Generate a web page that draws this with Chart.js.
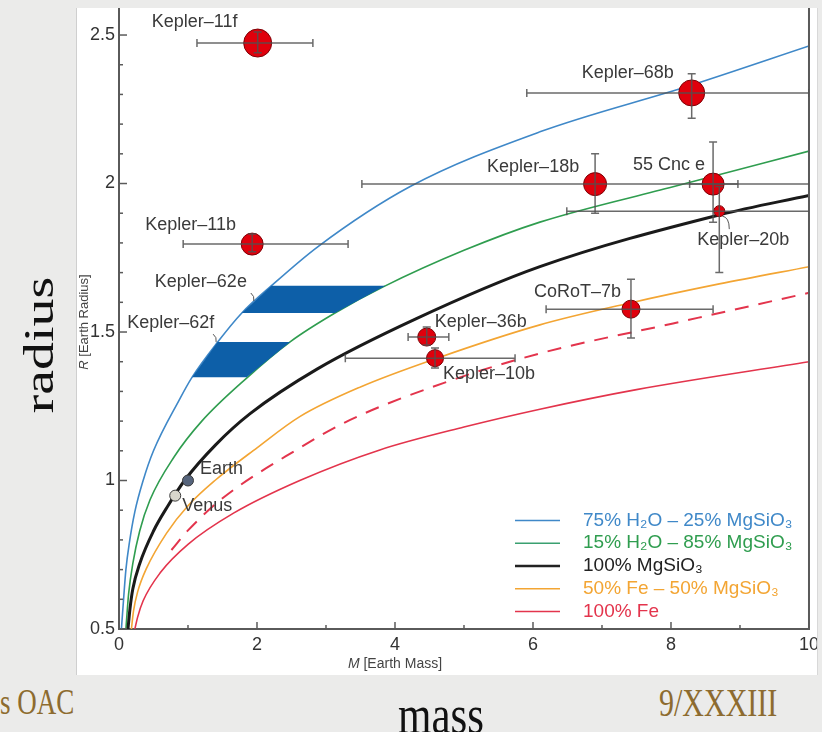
<!DOCTYPE html>
<html>
<head>
<meta charset="utf-8">
<script src="https://cdn.jsdelivr.net/npm/chart.js@4.4.1/dist/chart.umd.min.js"></script>
<style>
  body { margin: 0; width: 822px; height: 732px; overflow: hidden; background: #ebebea; position: relative; font-family: "Liberation Serif", serif; }
  #panel { position: absolute; left: 77px; top: 8px; width: 740px; height: 667px; background: #fff; overflow: hidden; box-shadow: -1px 0 0 #cfcfcf, 1px 0 0 #d8d8d8; }
  #panel canvas { position: absolute; left: 0; top: -14.8px; }
  .slide { position: absolute; white-space: nowrap; line-height: 1; transform-origin: 0 0; }
  #radius { position: absolute; left: 38px; top: 345px; font-size: 43px; line-height: 1; white-space: nowrap; color: #111;
            transform: translate(-50%, -50%) rotate(-90deg) scale(1.3, 1); }
</style>
</head>
<body>
<div id="panel"><canvas id="myChart" width="747" height="682"></canvas></div>
<div id="radius">radius</div>
<div class="slide" style="left:0px; top:685px; font-size:27px; color:#8d6b2f; transform:scaleY(1.3)">s OAC</div>
<div class="slide" style="left:398px; top:686px; font-size:43px; color:#111; transform:scaleY(1.3)">mass</div>
<div class="slide" style="left:659px; top:683px; font-size:30px; color:#8d6b2f; transform:scaleY(1.3)">9/XXXIII</div>
<script>
// mass-radius curves (Earth masses, Earth radii)
const massBlue = [0.035, 0.06, 0.1, 0.15, 0.23, 0.35, 0.5, 0.87, 1.06, 1.43, 1.78, 2.21, 2.88, 4.22, 6.1, 8.28, 10]
const radiusBlue = [0.5, 0.58, 0.70, 0.79, 0.895, 1.0, 1.1, 1.27, 1.348, 1.466, 1.564, 1.656, 1.787, 1.99, 2.174, 2.33, 2.463]

const massGreen = [0.1, 0.14, 0.2, 0.3, 0.45, 0.8, 1.2, 1.85, 2.48, 3.13, 3.83, 5.0, 6.1, 8.03, 10]
const radiusGreen = [0.5, 0.62, 0.72, 0.83, 0.935, 1.08, 1.2, 1.345, 1.467, 1.564, 1.652, 1.775, 1.87, 1.989, 2.109]

const massBlack = [0.13, 0.16, 0.2, 0.3, 0.5, 0.71, 0.95, 1.4, 1.9, 2.87, 4.31, 6.1, 8.71, 10]
const radiusBlack = [0.5, 0.57, 0.635, 0.72, 0.83, 0.915, 1.0, 1.12, 1.225, 1.375, 1.545, 1.72, 1.895, 1.96]

const massOrange = [0.18, 0.21, 0.27, 0.4, 0.69, 1.0, 1.39, 2.0, 2.62, 3.5, 4.6, 6.1, 7.41, 8.7, 10]
const radiusOrange = [0.5, 0.56, 0.625, 0.705, 0.823, 0.915, 1.0, 1.11, 1.215, 1.315, 1.411, 1.524, 1.598, 1.662, 1.72]

const massDash = [0.76, 1.0, 1.5, 2.57, 3.35, 4.7, 6.1, 8.03, 10]
const radiusDash = [0.766, 0.832, 0.94, 1.103, 1.204, 1.328, 1.428, 1.529, 1.632]

const massFe = [0.23, 0.27, 0.35, 0.6, 1.0, 1.66, 2.62, 3.78, 5.0, 6.1, 7.5, 10]
const radiusFe = [0.5, 0.54, 0.595, 0.69, 0.785, 0.89, 1.0, 1.103, 1.18, 1.24, 1.306, 1.40]

// Kepler-62 e/f allowed ranges (corners of the shaded bands)
const band62eMass = [1.78, 2.21, 3.86, 3.13]
const band62eRadius = [1.564, 1.656, 1.656, 1.564]
const band62fMass = [1.06, 1.43, 2.48, 1.85]
const band62fRadius = [1.348, 1.466, 1.466, 1.348]

// measured planets
const planetNames = ['Kepler–11f', 'Kepler–68b', 'Kepler–18b', '55 Cnc e', 'Kepler–11b', 'Kepler–20b', 'CoRoT–7b', 'Kepler–36b', 'Kepler–10b']
const planetMass = [2.01, 8.30, 6.90, 8.61, 1.93, 8.70, 7.42, 4.46, 4.58]
const planetRadius = [2.473, 2.305, 1.998, 1.998, 1.796, 1.907, 1.577, 1.483, 1.412]
const massLow = [1.13, 5.91, 3.52, 8.27, 0.93, 6.49, 6.19, 4.19, 3.28]
const massHigh = [2.81, 10.0, 10.6, 8.97, 3.32, 10.6, 8.61, 4.78, 5.74]
const radiusLow = [2.44, 2.22, 1.90, 1.87, 1.77, 1.70, 1.48, 1.456, 1.379]
const radiusHigh = [2.51, 2.37, 2.10, 2.14, 1.83, 1.99, 1.678, 1.517, 1.446]

const solarNames = ['Earth', 'Venus']
const solarMass = [1.0, 0.815]
const solarRadius = [1.0, 0.949]

const legendNames = ['75% H₂O – 25% MgSiO₃', '15% H₂O – 85% MgSiO₃', '100% MgSiO₃', '50% Fe – 50% MgSiO₃', '100% Fe']

const xTicks = [0, 2, 4, 6, 8, 10]
const yTicks = [0.5, 1, 1.5, 2, 2.5]

// styles / layout
const colBlue = '#3f88c8'
const colGreen = '#2f9d4f'
const colBlack = '#1a1a1a'
const colOrange = '#f3a533'
const colRed = '#e3344c'
const legendColors = [colBlue, colGreen, '#222', colOrange, colRed]
const legendLineColors = [colBlue, '#3aa070', '#222', colOrange, colRed]
const planetSize = [14, 13, 11.5, 11, 11, 5.5, 9, 9, 8.5]
// label offsets in px from the marker: [dx (left edge), dy (middle)]
const planetLabelOffset = [[-106, -21], [-110, -20], [-108, -17], [-80, -19], [-107, -19], [-22, 29], [-97, -17], [8, -15], [8, 16]]
const solarLabelOffset = [[12, -11], [7, 10]]

function pts(xs, ys){
    return xs.map((x, i) => ({x: x, y: ys[i]}))
}

function curve(xs, ys, color, width, dash){
    return {
        type: 'line', data: pts(xs, ys), borderColor: color, borderWidth: width,
        borderDash: dash || [], pointRadius: 0, fill: false,
        cubicInterpolationMode: 'monotone'
    }
}

function band(xs, ys){
    return {
        type: 'line', data: pts(xs, ys), borderWidth: 0, borderColor: 'rgba(0,0,0,0)',
        backgroundColor: '#0d5fa8', pointRadius: 0, fill: 'shape', tension: 0
    }
}

const overlay = {
    id: 'overlay',
    afterDatasetsDraw(chart){
        const ctx = chart.ctx
        const a = chart.chartArea
        const x = chart.scales.x
        const y = chart.scales.y
        ctx.save()

        // right frame line
        ctx.strokeStyle = '#5a5a5a'
        ctx.lineWidth = 2
        ctx.beginPath()
        ctx.moveTo(a.right, a.top)
        ctx.lineTo(a.right, a.bottom + 1)
        ctx.stroke()

        // inside ticks
        ctx.lineWidth = 1.5
        for(let i = 5; i <= 25; i++){
            const py = y.getPixelForValue(i / 10)
            const len = i % 5 == 0 ? 8 : 4
            ctx.beginPath()
            ctx.moveTo(a.left, py)
            ctx.lineTo(a.left + len, py)
            ctx.stroke()
        }
        for(let m = 0; m <= 10; m++){
            const px = x.getPixelForValue(m)
            const len = m % 2 == 0 ? 7 : 4
            ctx.beginPath()
            ctx.moveTo(px, a.bottom)
            ctx.lineTo(px, a.bottom - len)
            ctx.stroke()
        }

        // error bars
        ctx.save()
        ctx.beginPath()
        ctx.rect(a.left, a.top, a.right - a.left, a.bottom - a.top)
        ctx.clip()
        ctx.strokeStyle = 'rgba(80,80,80,0.85)'
        ctx.lineWidth = 1.5
        planetMass.forEach((m, i) => {
            const px = x.getPixelForValue(m)
            const py = y.getPixelForValue(planetRadius[i])
            const x0 = x.getPixelForValue(massLow[i])
            const x1 = x.getPixelForValue(massHigh[i])
            const y0 = y.getPixelForValue(radiusLow[i])
            const y1 = y.getPixelForValue(radiusHigh[i])
            ctx.beginPath()
            ctx.moveTo(x0, py); ctx.lineTo(x1, py)
            ctx.moveTo(x0, py - 4); ctx.lineTo(x0, py + 4)
            ctx.moveTo(x1, py - 4); ctx.lineTo(x1, py + 4)
            ctx.moveTo(px, y0); ctx.lineTo(px, y1)
            ctx.moveTo(px - 4, y0); ctx.lineTo(px + 4, y0)
            ctx.moveTo(px - 4, y1); ctx.lineTo(px + 4, y1)
            ctx.stroke()
        })
        ctx.restore()

        // planet labels
        ctx.font = '18px "Liberation Sans", Arial, sans-serif'
        ctx.fillStyle = '#3a3a3a'
        ctx.textAlign = 'left'
        ctx.textBaseline = 'middle'
        planetNames.forEach((name, i) => {
            const px = x.getPixelForValue(planetMass[i])
            const py = y.getPixelForValue(planetRadius[i])
            ctx.fillText(name, px + planetLabelOffset[i][0], py + planetLabelOffset[i][1])
        })
        solarNames.forEach((name, i) => {
            const px = x.getPixelForValue(solarMass[i])
            const py = y.getPixelForValue(solarRadius[i])
            ctx.fillText(name, px + solarLabelOffset[i][0], py + solarLabelOffset[i][1])
        })

        // Kepler-62 labels + leaders
        const e0x = x.getPixelForValue(band62eMass[0]), e0y = y.getPixelForValue(band62eRadius[0])
        const f0x = x.getPixelForValue(band62fMass[0]), f0y = y.getPixelForValue(band62fRadius[0])
        ctx.fillText('Kepler–62e', e0x - 87, e0y - 31)
        ctx.fillText('Kepler–62f', f0x - 65, f0y - 54)
        ctx.strokeStyle = '#555'
        ctx.lineWidth = 1
        ctx.beginPath()
        ctx.moveTo(e0x + 9, e0y - 20); ctx.quadraticCurveTo(e0x + 13, e0y - 17, e0x + 12, e0y - 12)
        ctx.moveTo(f0x + 21, f0y - 43); ctx.quadraticCurveTo(f0x + 25, f0y - 40, f0x + 24, f0y - 35)
        const kx = x.getPixelForValue(planetMass[5]), ky = y.getPixelForValue(planetRadius[5])
        ctx.moveTo(kx + 3, ky + 5); ctx.quadraticCurveTo(kx + 10, ky + 6, kx + 10, ky + 18)
        ctx.stroke()

        // legend (positions relative to the chart area)
        ctx.font = '19px "Liberation Sans", Arial, sans-serif'
        legendNames.forEach((name, i) => {
            const ly = a.top + 512.5 + i * 22.75
            ctx.strokeStyle = legendLineColors[i]
            ctx.lineWidth = i == 2 ? 2.5 : 1.5
            ctx.beginPath()
            ctx.moveTo(a.left + 396, ly)
            ctx.lineTo(a.left + 441, ly)
            ctx.stroke()
            ctx.fillStyle = legendColors[i]
            ctx.fillText(name, a.left + 464, ly)
        })

        // axis titles
        ctx.fillStyle = '#444'
        ctx.font = 'italic 14px "Liberation Sans", Arial, sans-serif'
        const wM = ctx.measureText('M').width
        ctx.font = '14px "Liberation Sans", Arial, sans-serif'
        const wRest = ctx.measureText(' [Earth Mass]').width
        const cx = x.getPixelForValue(4)
        let sx = cx - (wM + wRest) / 2
        ctx.font = 'italic 14px "Liberation Sans", Arial, sans-serif'
        ctx.fillText('M', sx, a.bottom + 35)
        ctx.font = '14px "Liberation Sans", Arial, sans-serif'
        ctx.fillText(' [Earth Mass]', sx + wM, a.bottom + 35)

        ctx.translate(a.left - 35, a.top + 314)
        ctx.rotate(-Math.PI / 2)
        ctx.font = 'italic 13px "Liberation Sans", Arial, sans-serif'
        const wR = ctx.measureText('R').width
        ctx.font = '13px "Liberation Sans", Arial, sans-serif'
        const wR2 = ctx.measureText(' [Earth Radius]').width
        sx = -(wR + wR2) / 2
        ctx.font = 'italic 13px "Liberation Sans", Arial, sans-serif'
        ctx.fillText('R', sx, 0)
        ctx.font = '13px "Liberation Sans", Arial, sans-serif'
        ctx.fillText(' [Earth Radius]', sx + wR, 0)

        ctx.restore()
    }
}

const data = {
    datasets: [
        {
            label: 'planets', data: pts(planetMass, planetRadius),
            pointRadius: planetSize, pointBackgroundColor: '#e0000c',
            pointBorderColor: '#7d0006', pointBorderWidth: 1
        },
        {
            label: 'solar', data: pts(solarMass, solarRadius),
            pointRadius: 5.5, pointBackgroundColor: ['#56647c', '#d8d6cc'],
            pointBorderColor: '#3a3a3a', pointBorderWidth: 1
        },
        band(band62eMass, band62eRadius),
        band(band62fMass, band62fRadius),
        curve(massBlack, radiusBlack, colBlack, 3),
        curve(massBlue, radiusBlue, colBlue, 1.6),
        curve(massGreen, radiusGreen, colGreen, 1.6),
        curve(massOrange, radiusOrange, colOrange, 1.6),
        curve(massDash, radiusDash, colRed, 2, [14, 10]),
        curve(massFe, radiusFe, colRed, 1.6)
    ]
}

const config = {
    type: 'scatter',
    data: data,
    options: {
        responsive: false,
        devicePixelRatio: 1,
        animation: false,
        layout: { padding: { left: 0, right: 8, top: 0, bottom: 0 } },
        plugins: { legend: { display: false }, tooltip: { enabled: false } },
        scales: {
            x: {
                type: 'linear', min: 0, max: 10,
                afterBuildTicks: s => { s.ticks = xTicks.map(v => ({value: v})) },
                ticks: { color: '#333', font: { size: 18 }, padding: 5, callback: v => String(v) },
                grid: { drawOnChartArea: false, drawTicks: false },
                border: { display: true, color: '#5a5a5a', width: 2 },
                afterFit: s => { s.height = 46 }
            },
            y: {
                type: 'linear', min: 0.5, max: 2.591,
                afterBuildTicks: s => { s.ticks = yTicks.map(v => ({value: v})) },
                ticks: { color: '#333', font: { size: 18 }, padding: 4, callback: v => String(v) },
                grid: { drawOnChartArea: false, drawTicks: false },
                border: { display: true, color: '#5a5a5a', width: 2 },
                afterFit: s => { s.width = 42 }
            }
        }
    },
    plugins: [overlay]
}

Chart.defaults.font.family = '"Liberation Sans", Arial, sans-serif'
const myChart = new Chart(document.getElementById('myChart'), config)
</script>
</body>
</html>
